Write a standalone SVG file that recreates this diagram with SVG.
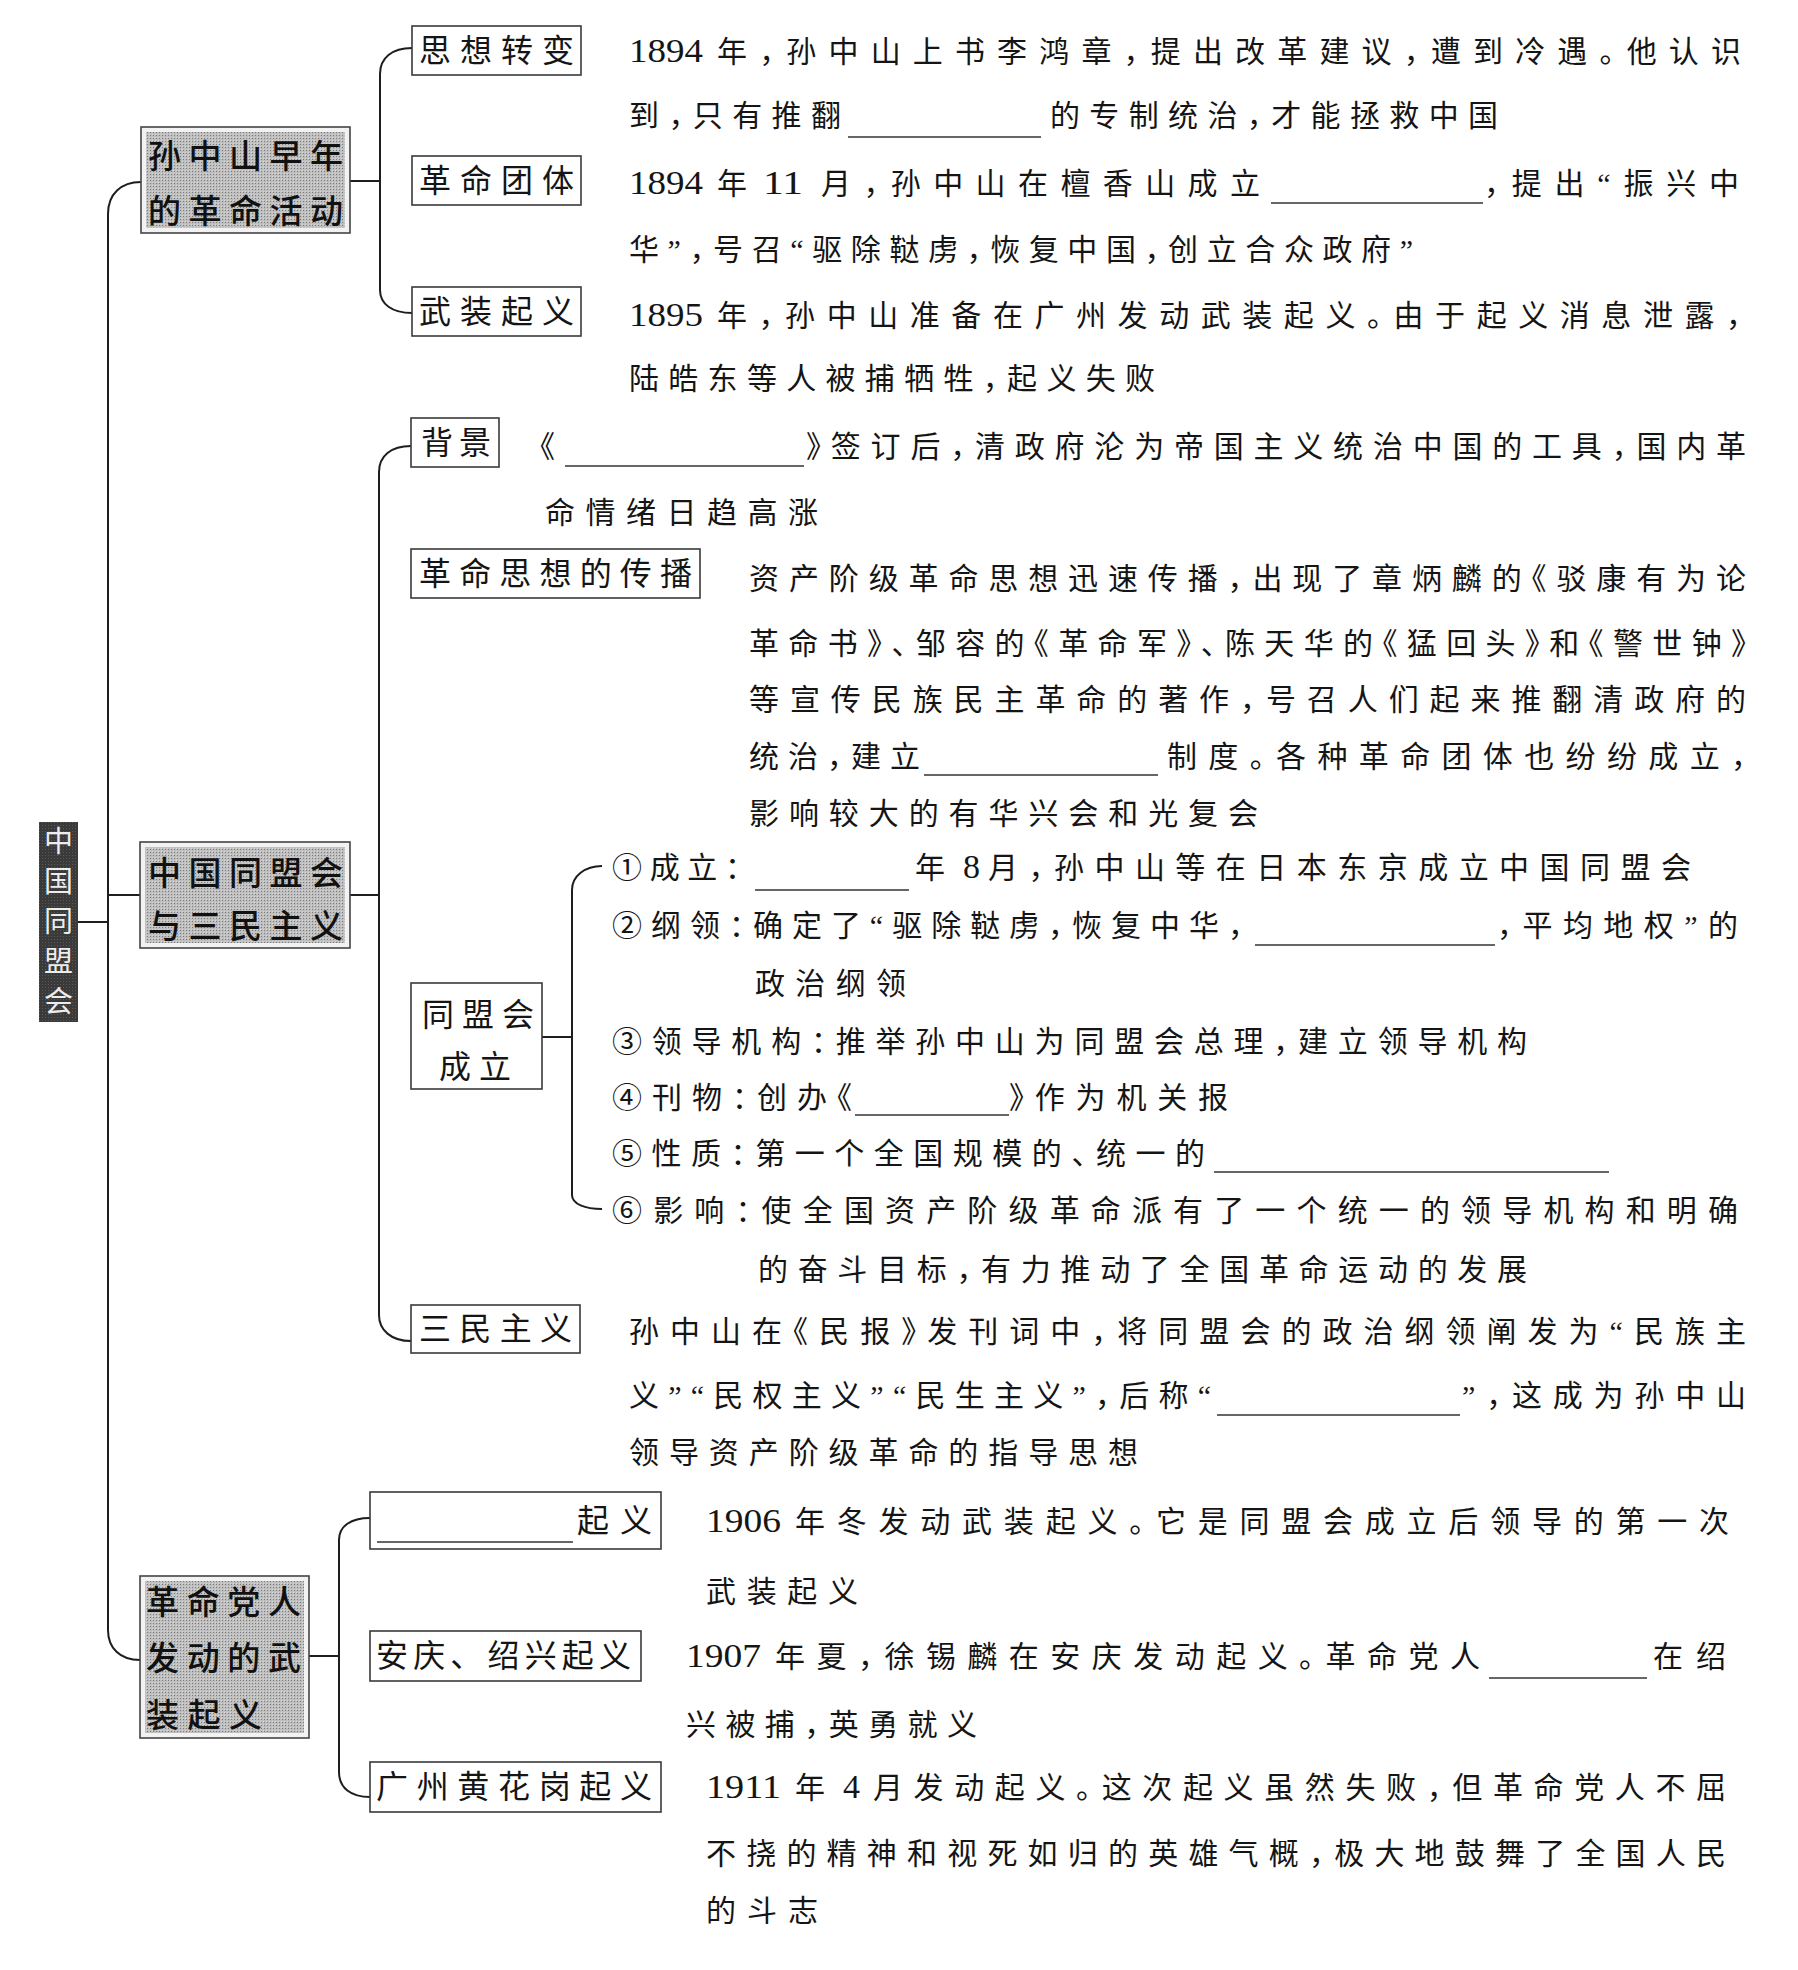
<svg xmlns="http://www.w3.org/2000/svg" width="1798" height="1970" viewBox="0 0 1798 1970">
<defs>
<pattern id="lightDots" width="3" height="3" patternUnits="userSpaceOnUse"><rect width="3" height="3" fill="#bfbfbf"/><rect width="1" height="1" fill="#7a7a7a"/><rect x="2" y="2" width="1" height="1" fill="#d6d6d6"/></pattern>
<pattern id="darkDots" width="3" height="3" patternUnits="userSpaceOnUse"><rect width="3" height="3" fill="#3a3a3a"/><rect width="1" height="1" fill="#5a5a5a"/></pattern>
</defs>
<style>
.t{font-family:"Liberation Serif","Noto Sans CJK SC",serif;font-size:30px;fill:#151515;font-feature-settings:"halt"}
.d{font-family:"Liberation Serif",serif;font-size:34px;fill:#151515}
.bx{fill:#fff;stroke:#3a3a3a;stroke-width:1.6}
.bl{font-family:"Noto Sans CJK SC",sans-serif;font-size:32px;fill:#151515}
.l1o{fill:#f2f2f2;stroke:#444;stroke-width:1.6}
.l1i{fill:url(#lightDots)}
.l1t{font-family:"Noto Sans CJK SC",sans-serif;font-size:33px;font-weight:500;fill:#111}
.rt{font-family:"Noto Sans CJK SC",sans-serif;font-size:29px;fill:#ececec;text-anchor:middle}
.c{fill:none;stroke:#1e1e1e;stroke-width:2}
.u{stroke:#333;stroke-width:1.6}
</style>
<rect width="1798" height="1970" fill="#fff"/>

<g id="connectors">
<path class="c" d="M78,922 H108"/>
<path class="c" d="M141,182 C121,182 108,194 108,214 V1630 C108,1648 120,1660 140,1660"/>
<path class="c" d="M108,895 H140"/>
<path class="c" d="M350,181 H380"/>
<path class="c" d="M412,48 C392,48 380,58 380,74 V290 C380,304 392,313 412,313"/>
<path class="c" d="M350,895 H379"/>
<path class="c" d="M411,446 C391,446 379,456 379,472 V1315 C379,1330 391,1341 411,1341"/>
<path class="c" d="M542,1037 H572"/>
<path class="c" d="M602,866 C585,866 572,876 572,890 V1195 C572,1204 585,1209 602,1209"/>
<path class="c" d="M309,1656 H339"/>
<path class="c" d="M370,1518 C351,1518 339,1526 339,1540 V1772 C339,1788 351,1797 370,1797"/>
</g>

<g id="root">
<rect x="39" y="822" width="39" height="200" fill="url(#darkDots)"/>
<text class="rt" x="58.5" y="852">中</text>
<text class="rt" x="58.5" y="892">国</text>
<text class="rt" x="58.5" y="932">同</text>
<text class="rt" x="58.5" y="972">盟</text>
<text class="rt" x="58.5" y="1012">会</text>
</g>

<g id="n-early">
<rect class="l1o" x="141" y="127" width="209" height="106"/>
<rect class="l1i" x="146" y="132" width="199" height="96"/>
<text class="l1t" x="148" y="168" textLength="195" lengthAdjust="spacing">孙中山早年</text>
<text class="l1t" x="148" y="223" textLength="195" lengthAdjust="spacing">的革命活动</text>
</g>

<g id="n-sixiang">
<rect class="bx" x="412" y="26" width="169" height="49"/>
<text class="bl" x="419" y="62" textLength="155" lengthAdjust="spacing">思想转变</text>
<text class="d" x="629" y="62" textLength="74" lengthAdjust="spacingAndGlyphs">1894</text>
<text class="t" x="717" y="62" textLength="1024" lengthAdjust="spacing">年，孙中山上书李鸿章，提出改革建议，遭到冷遇。他认识</text>
<text class="t" x="629" y="126" textLength="212" lengthAdjust="spacing">到，只有推翻</text>
<line class="u" x1="848" y1="137" x2="1041" y2="137"/>
<text class="t" x="1050" y="126" textLength="448" lengthAdjust="spacing">的专制统治，才能拯救中国</text>
</g>

<g id="n-tuanti">
<rect class="bx" x="412" y="156" width="169" height="49"/>
<text class="bl" x="419" y="192" textLength="155" lengthAdjust="spacing">革命团体</text>
<text class="d" x="629" y="194" textLength="74" lengthAdjust="spacingAndGlyphs">1894</text>
<text class="t" x="717" y="194">年</text>
<text class="d" x="763" y="194" textLength="40" lengthAdjust="spacingAndGlyphs">11</text>
<text class="t" x="821" y="194" textLength="439" lengthAdjust="spacing">月，孙中山在檀香山成立</text>
<line class="u" x1="1271" y1="203" x2="1483" y2="203"/>
<text class="t" x="1484" y="194" textLength="255" lengthAdjust="spacing">，提出“振兴中</text>
<text class="t" x="629" y="260" textLength="784" lengthAdjust="spacing">华”，号召“驱除鞑虏，恢复中国，创立合众政府”</text>
</g>

<g id="n-qiyi1">
<rect class="bx" x="412" y="287" width="169" height="49"/>
<text class="bl" x="419" y="323" textLength="155" lengthAdjust="spacing">武装起义</text>
<text class="d" x="629" y="326" textLength="74" lengthAdjust="spacingAndGlyphs">1895</text>
<text class="t" x="717" y="326" textLength="1024" lengthAdjust="spacing">年，孙中山准备在广州发动武装起义。由于起义消息泄露，</text>
<text class="t" x="629" y="389" textLength="526" lengthAdjust="spacing">陆皓东等人被捕牺牲，起义失败</text>
</g>

<g id="n-tongmeng">
<rect class="l1o" x="140" y="842" width="210" height="106"/>
<rect class="l1i" x="145" y="847" width="200" height="96"/>
<text class="l1t" x="148" y="885" textLength="195" lengthAdjust="spacing">中国同盟会</text>
<text class="l1t" x="148" y="938" textLength="195" lengthAdjust="spacing">与三民主义</text>
</g>

<g id="n-beijing">
<rect class="bx" x="411" y="418" width="88" height="49"/>
<text class="bl" x="421" y="454" textLength="70" lengthAdjust="spacing">背景</text>
<text class="t" x="540" y="457">《</text>
<line class="u" x1="565" y1="466" x2="804" y2="466"/>
<text class="t" x="806" y="457" textLength="940" lengthAdjust="spacing">》签订后，清政府沦为帝国主义统治中国的工具，国内革</text>
<text class="t" x="545" y="523" textLength="273" lengthAdjust="spacing">命情绪日趋高涨</text>
</g>

<g id="n-chuanbo">
<rect class="bx" x="411" y="549" width="289" height="49"/>
<text class="bl" x="419" y="585" textLength="273" lengthAdjust="spacing">革命思想的传播</text>
<text class="t" x="749" y="589" textLength="997" lengthAdjust="spacing">资产阶级革命思想迅速传播，出现了章炳麟的《驳康有为论</text>
<text class="t" x="749" y="654" textLength="997" lengthAdjust="spacing">革命书》、邹容的《革命军》、陈天华的《猛回头》和《警世钟》</text>
<text class="t" x="749" y="710" textLength="997" lengthAdjust="spacing">等宣传民族民主革命的著作，号召人们起来推翻清政府的</text>
<text class="t" x="749" y="767" textLength="171" lengthAdjust="spacing">统治，建立</text>
<line class="u" x1="924" y1="775" x2="1158" y2="775"/>
<text class="t" x="1167" y="767" textLength="579" lengthAdjust="spacing">制度。各种革命团体也纷纷成立，</text>
<text class="t" x="749" y="824" textLength="509" lengthAdjust="spacing">影响较大的有华兴会和光复会</text>
</g>

<g id="n-chengli">
<rect class="bx" x="411" y="983" width="131" height="106"/>
<text class="bl" x="422" y="1026" textLength="112" lengthAdjust="spacing">同盟会</text>
<text class="bl" x="439" y="1078" textLength="72" lengthAdjust="spacing">成立</text>
<text class="t" x="612" y="878" textLength="128" lengthAdjust="spacing">①成立：</text>
<line class="u" x1="755" y1="890" x2="909" y2="890"/>
<text class="t" x="915" y="878">年</text>
<text class="d" x="963" y="878">8</text>
<text class="t" x="988" y="878" textLength="703" lengthAdjust="spacing">月，孙中山等在日本东京成立中国同盟会</text>
<text class="t" x="612" y="936" textLength="631" lengthAdjust="spacing">②纲领：确定了“驱除鞑虏，恢复中华，</text>
<line class="u" x1="1255" y1="945" x2="1495" y2="945"/>
<text class="t" x="1497" y="936" textLength="241" lengthAdjust="spacing">，平均地权”的</text>
<text class="t" x="755" y="994" textLength="151" lengthAdjust="spacing">政治纲领</text>
<text class="t" x="612" y="1052" textLength="915" lengthAdjust="spacing">③领导机构：推举孙中山为同盟会总理，建立领导机构</text>
<text class="t" x="612" y="1108" textLength="240" lengthAdjust="spacing">④刊物：创办《</text>
<line class="u" x1="855" y1="1115" x2="1009" y2="1115"/>
<text class="t" x="1009" y="1108" textLength="219" lengthAdjust="spacing">》作为机关报</text>
<text class="t" x="612" y="1164" textLength="593" lengthAdjust="spacing">⑤性质：第一个全国规模的、统一的</text>
<line class="u" x1="1214" y1="1172" x2="1609" y2="1172"/>
<text class="t" x="612" y="1221" textLength="1126" lengthAdjust="spacing">⑥影响：使全国资产阶级革命派有了一个统一的领导机构和明确</text>
<text class="t" x="758" y="1280" textLength="769" lengthAdjust="spacing">的奋斗目标，有力推动了全国革命运动的发展</text>
</g>

<g id="n-sanmin">
<rect class="bx" x="411" y="1305" width="169" height="48"/>
<text class="bl" x="419" y="1340" textLength="153" lengthAdjust="spacing">三民主义</text>
<text class="t" x="629" y="1342" textLength="1117" lengthAdjust="spacing">孙中山在《民报》发刊词中，将同盟会的政治纲领阐发为“民族主</text>
<text class="t" x="629" y="1406" textLength="582" lengthAdjust="spacing">义”“民权主义”“民生主义”，后称“</text>
<line class="u" x1="1217" y1="1415" x2="1460" y2="1415"/>
<text class="t" x="1462" y="1406" textLength="284" lengthAdjust="spacing">”，这成为孙中山</text>
<text class="t" x="629" y="1463" textLength="509" lengthAdjust="spacing">领导资产阶级革命的指导思想</text>
</g>

<g id="n-wuzhuang">
<rect class="l1o" x="140" y="1576" width="169" height="162"/>
<rect class="l1i" x="145" y="1581" width="159" height="152"/>
<text class="l1t" x="146" y="1614" textLength="155" lengthAdjust="spacing">革命党人</text>
<text class="l1t" x="146" y="1670" textLength="155" lengthAdjust="spacing">发动的武</text>
<text class="l1t" x="146" y="1727" textLength="116" lengthAdjust="spacing">装起义</text>
</g>

<g id="n-pingliuli">
<rect class="bx" x="370" y="1492" width="291" height="57"/>
<line class="u" x1="377" y1="1542" x2="573" y2="1542"/>
<text class="bl" x="577" y="1532" textLength="75" lengthAdjust="spacing">起义</text>
<text class="d" x="706" y="1532" textLength="75" lengthAdjust="spacingAndGlyphs">1906</text>
<text class="t" x="795" y="1532" textLength="934" lengthAdjust="spacing">年冬发动武装起义。它是同盟会成立后领导的第一次</text>
<text class="t" x="706" y="1602" textLength="152" lengthAdjust="spacing">武装起义</text>
</g>

<g id="n-anqing">
<rect class="bx" x="370" y="1631" width="271" height="50"/>
<text class="bl" x="376" y="1667" textLength="255" lengthAdjust="spacing">安庆、绍兴起义</text>
<text class="d" x="686" y="1667" textLength="75" lengthAdjust="spacingAndGlyphs">1907</text>
<text class="t" x="775" y="1667" textLength="705" lengthAdjust="spacing">年夏，徐锡麟在安庆发动起义。革命党人</text>
<line class="u" x1="1489" y1="1678" x2="1647" y2="1678"/>
<text class="t" x="1653" y="1667" textLength="73" lengthAdjust="spacing">在绍</text>
<text class="t" x="686" y="1735" textLength="291" lengthAdjust="spacing">兴被捕，英勇就义</text>
</g>

<g id="n-huanghuagang">
<rect class="bx" x="370" y="1762" width="291" height="50"/>
<text class="bl" x="376" y="1798" textLength="276" lengthAdjust="spacing">广州黄花岗起义</text>
<text class="d" x="706" y="1798" textLength="75" lengthAdjust="spacingAndGlyphs">1911</text>
<text class="t" x="795" y="1798">年</text>
<text class="d" x="843" y="1798">4</text>
<text class="t" x="873" y="1798" textLength="853" lengthAdjust="spacing">月发动起义。这次起义虽然失败，但革命党人不屈</text>
<text class="t" x="706" y="1864" textLength="1020" lengthAdjust="spacing">不挠的精神和视死如归的英雄气概，极大地鼓舞了全国人民</text>
<text class="t" x="706" y="1921" textLength="112" lengthAdjust="spacing">的斗志</text>
</g>
</svg>
